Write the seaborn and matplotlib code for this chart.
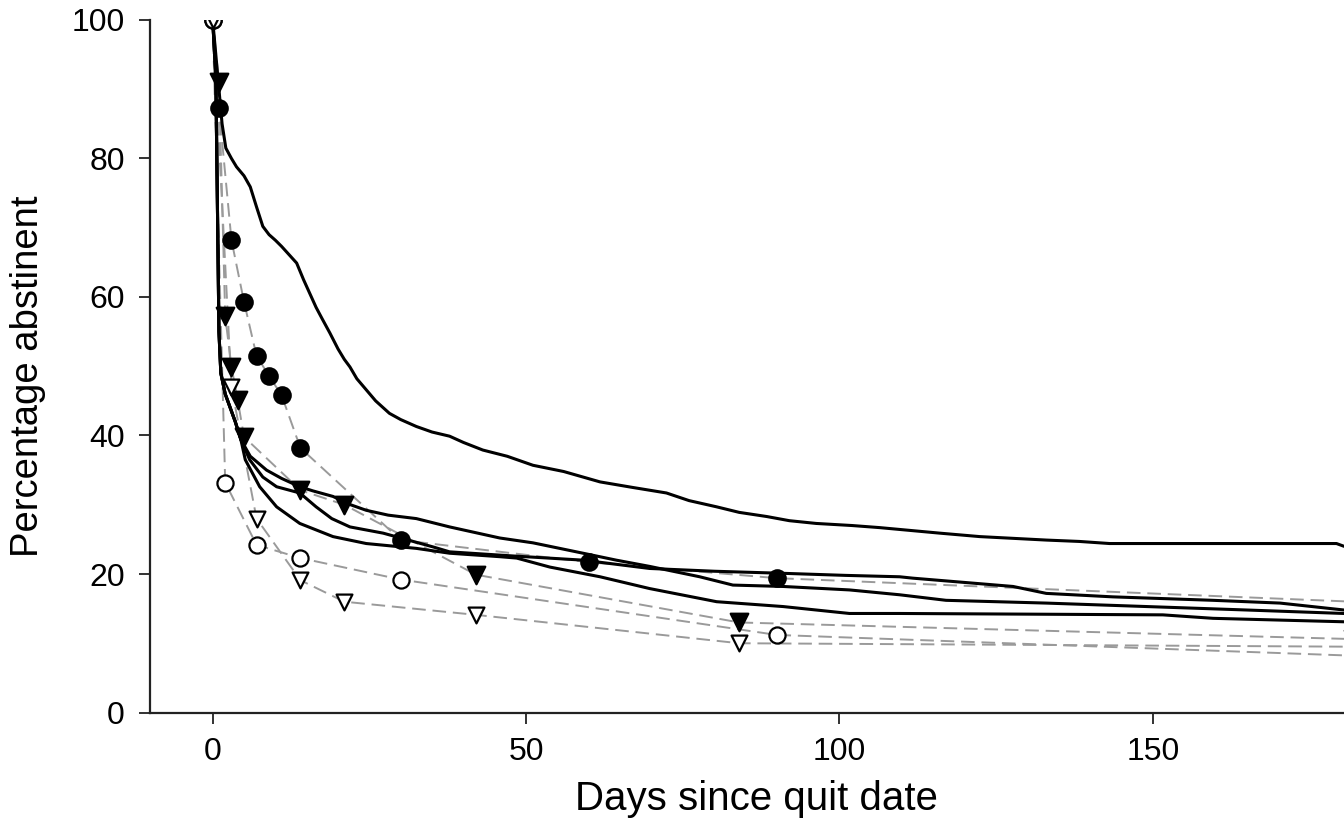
import matplotlib
matplotlib.use("Agg")
import matplotlib.pyplot as plt
import numpy as np
import pandas as pd
import seaborn as sns

# solid curves (continuous abstinence, four groups)
a_days = [0, 0.5, 1, 1.5, 2.1, 3, 3.8, 5, 6, 7, 8, 9, 10, 11, 12.3, 13.4, 14.5, 15.5, 16.5,
          17.5, 18.7, 20, 21, 21.9, 23, 24.5, 26, 28.2, 30, 32.5, 35, 37.8, 40, 43.1, 47, 51.1,
          56, 61.8, 67, 72.4, 76, 80.4, 84, 88.4, 92, 96.3, 102, 106.4, 110, 116, 122.4, 133,
          138.3, 143.1, 179.3, 180.5]
a_pct = [100, 95, 90, 85, 81.5, 80, 78.8, 77.5, 75.9, 73, 70.2, 69, 68.2, 67.3, 66, 64.9, 62.5,
         60.5, 58.5, 56.8, 54.8, 52.5, 51, 49.9, 48.2, 46.6, 45, 43.2, 42.3, 41.3, 40.5, 39.9, 39,
         37.9, 37, 35.7, 34.8, 33.3, 32.5, 31.7, 30.6, 29.7, 28.9, 28.3, 27.7, 27.3, 27, 26.7,
         26.4, 25.9, 25.4, 24.9, 24.7, 24.4, 24.4, 24.0]

b_days = [0, 0.5, 0.8, 1, 1.3, 2, 3, 3.6, 4.5, 6, 8.6, 11, 13.9, 16, 19.2, 22, 24.5, 28, 32.5,
          37.8, 45.8, 51.1, 59.1, 64.4, 69.7, 77.7, 83, 91, 101.6, 109.6, 117, 133, 149, 165, 180.5]
b_pct = [100, 92, 70, 55, 49, 46, 43.5, 42, 39.4, 37, 35, 33.8, 32.6, 32, 31.2, 30, 29.2, 28.5,
         28, 26.8, 25.2, 24.5, 23, 22, 21.1, 19.6, 18.4, 18.2, 17.7, 17, 16.2, 15.8, 15.3, 14.8, 14.3]

c_days = [0, 0.5, 0.8, 1, 1.3, 2, 3, 3.6, 4.5, 5.9, 8, 10.2, 13.9, 16.5, 19, 21.9, 27.2, 35.2,
          37.8, 48, 59.1, 69.7, 80, 91, 101, 109.6, 111.7, 127.7, 133, 143.6, 159.6, 170.3, 180.5]
c_pct = [100, 92, 70, 55, 49, 46, 43.5, 42, 39.4, 36.5, 34, 32.6, 31.7, 29.7, 28, 26.8, 25.9,
         23.9, 23.2, 22.6, 22, 20.8, 20.4, 20.1, 19.8, 19.6, 19.4, 18.2, 17.2, 16.7, 16.2, 15.8, 14.8]

d_days = [0, 0.5, 0.8, 1, 1.3, 2, 3, 3.6, 4.5, 5.2, 7.5, 10.2, 13.9, 19.2, 24.5, 32.5, 37.8,
          45.8, 48.5, 53.8, 61.8, 69.7, 80.4, 91, 101.6, 109.6, 151.6, 159.6, 180.5]
d_pct = [100, 92, 70, 55, 49, 46, 43.5, 42, 39.4, 36.5, 32.6, 29.7, 27.3, 25.4, 24.4, 23.7, 23,
         22.5, 22.3, 21, 19.6, 17.9, 16, 15.3, 14.3, 14.3, 14.1, 13.6, 13.1]

# dashed curves with markers (point prevalence)
fc_days = [0, 1, 3, 5, 7, 9, 11, 14, 30, 60, 90, 182]
fc_pct = [100, 87.3, 68.2, 59.3, 51.5, 48.6, 45.8, 38.2, 24.9, 21.7, 19.4, 16.0]
ft_days = [0, 1, 2, 3, 4, 5, 14, 21, 42, 84, 182]
ft_pct = [100, 91.1, 57.2, 49.9, 45.1, 39.8, 32.1, 30.0, 19.9, 13.0, 10.6]
oc_days = [0, 2, 7, 14, 30, 90, 182]
oc_pct = [100, 33.2, 24.2, 22.3, 19.2, 11.2, 8.2]
ot_days = [0, 3, 7, 14, 21, 42, 84, 182]
ot_pct = [100, 47.0, 28.0, 19.1, 16.0, 14.1, 10.0, 9.5]

sns.set_style("ticks")
plt.rcParams["font.family"] = ["Liberation Sans", "DejaVu Sans"]
plt.rcParams["text.color"] = "black"
plt.rcParams["axes.labelcolor"] = "black"
plt.rcParams["xtick.color"] = "black"
plt.rcParams["ytick.color"] = "black"

fig = plt.figure(figsize=(13.44, 8.26), dpi=100)
ax = fig.add_axes([150 / 1344, 1 - 712.5 / 826, 1 - 150 / 1344, (712.5 - 20) / 826])

gray = "#9a9a9a"
dashed = [
    (fc_days, fc_pct, "o", "black", 140),
    (ft_days, ft_pct, "v", "black", 160),
    (oc_days, oc_pct, "o", "white", 135),
    (ot_days, ot_pct, "v", "white", 130),
]
for days, pct, mk, face, size in dashed:
    sns.lineplot(x=days, y=pct, ax=ax, color=gray, linewidth=1.4,
                 linestyle=(0, (7, 3.5)), sort=False, zorder=2)

for days, pct in [(a_days, a_pct), (b_days, b_pct), (c_days, c_pct), (d_days, d_pct)]:
    sns.lineplot(x=days, y=pct, ax=ax, color="black", linewidth=2.2, sort=False, zorder=3)

for days, pct, mk, face, size in dashed:
    sns.scatterplot(x=days, y=pct, ax=ax, marker=mk, s=size, color=face,
                    edgecolor="black", linewidth=1.6, zorder=5)

ax.set_xlim(-10, 180.5)
ax.set_ylim(0, 100)
ax.set_xticks([0, 50, 100, 150])
ax.set_yticks([0, 20, 40, 60, 80, 100])
sns.despine(ax=ax)
for side in ["left", "bottom"]:
    ax.spines[side].set_linewidth(1.6)
    ax.spines[side].set_color("#222222")
ax.tick_params(length=8, width=1.3, color="#222222", labelsize=23, pad=10)

ax.set_xlabel("Days since quit date", fontsize=29)
ax.set_ylabel("Percentage abstinent", fontsize=27.5)
ax.xaxis.set_label_coords(0.508, -0.098)
ax.yaxis.set_label_coords(-0.087, 0.485)

fig.savefig("out.png", dpi=100)
plt.close(fig)
